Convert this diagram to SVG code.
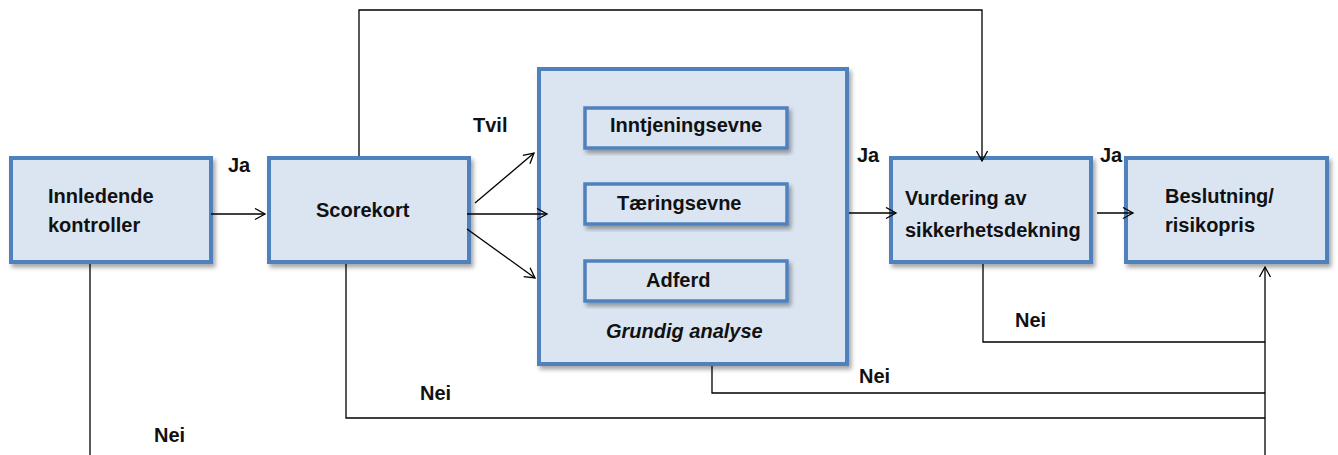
<svg xmlns="http://www.w3.org/2000/svg" width="1338" height="455" viewBox="0 0 1338 455">
  <defs>
    <filter id="shadow" x="-10%" y="-10%" width="125%" height="130%">
      <feDropShadow dx="2.5" dy="3.5" stdDeviation="2.2" flood-color="#000" flood-opacity="0.35"/>
    </filter>
    <marker id="arrow" markerUnits="userSpaceOnUse" markerWidth="14" markerHeight="14" refX="11" refY="6" orient="auto">
      <path d="M1,0.5 L11,6 L1,11.5" fill="none" stroke="#000" stroke-width="1.3"/>
    </marker>
    <style>
      .box { fill: #dbe5f1; stroke: #4f81bd; stroke-width: 4; filter: url(#shadow); }
      .inner { fill: #dbe5f1; stroke: #4f81bd; stroke-width: 3.5; filter: url(#shadow); }
      .lbl { font-family: "Liberation Sans", Arial, sans-serif; font-weight: bold; font-size: 20px; fill: #111; }
      .it { font-style: italic; }
      .conn { fill: none; stroke: #000; stroke-width: 1.3; }
    </style>
  </defs>

  <rect width="1338" height="455" fill="#fff"/>

  <g id="innledende">
    <rect class="box" x="11" y="158" width="200" height="104"/>
    <text class="lbl" x="48" y="203">Innledende</text>
    <text class="lbl" x="48" y="232">kontroller</text>
  </g>

  <g id="scorekort">
    <rect class="box" x="269" y="158" width="200" height="104"/>
    <text class="lbl" x="316" y="217">Scorekort</text>
  </g>

  <g id="grundig-analyse">
    <rect class="box" x="539" y="69" width="308" height="295"/>
    <text class="lbl it" x="606" y="338">Grundig analyse</text>
  </g>

  <g id="inntjeningsevne">
    <rect class="inner" x="585" y="108" width="202" height="40"/>
    <text class="lbl" x="610" y="132">Inntjeningsevne</text>
  </g>

  <g id="taeringsevne">
    <rect class="inner" x="585" y="184" width="202" height="40"/>
    <text class="lbl" x="617" y="210">Tæringsevne</text>
  </g>

  <g id="adferd">
    <rect class="inner" x="585" y="261" width="202" height="40"/>
    <text class="lbl" x="646" y="287">Adferd</text>
  </g>

  <g id="vurdering">
    <rect class="box" x="891" y="158" width="200" height="104"/>
    <text class="lbl" x="905" y="205">Vurdering av</text>
    <text class="lbl" x="905" y="237">sikkerhetsdekning</text>
  </g>

  <g id="beslutning">
    <rect class="box" x="1126" y="158" width="201" height="104"/>
    <text class="lbl" x="1165" y="203">Beslutning/</text>
    <text class="lbl" x="1165" y="232">risikopris</text>
  </g>

  <!-- connectors, drawn over the boxes so arrowheads stay visible -->
  <g id="connectors">
    <line class="conn" x1="211" y1="214" x2="265" y2="214" marker-end="url(#arrow)"/>
    <line class="conn" x1="475" y1="203" x2="534" y2="153" marker-end="url(#arrow)"/>
    <line class="conn" x1="467" y1="214" x2="547" y2="214" marker-end="url(#arrow)"/>
    <line class="conn" x1="467" y1="229" x2="535" y2="278" marker-end="url(#arrow)"/>
    <line class="conn" x1="849" y1="213" x2="896" y2="213" marker-end="url(#arrow)"/>
    <line class="conn" x1="1097" y1="213" x2="1133" y2="213" marker-end="url(#arrow)"/>
    <polyline class="conn" points="359,156 359,10 982,10 982,161" marker-end="url(#arrow)"/>
    <line class="conn" x1="90" y1="264" x2="90" y2="455"/>
    <polyline class="conn" points="346,264 346,418 1265,418"/>
    <polyline class="conn" points="712,366 712,393 1265,393"/>
    <polyline class="conn" points="983,264 983,342 1265,342"/>
    <line class="conn" x1="1265" y1="455" x2="1265" y2="267" marker-end="url(#arrow)"/>
  </g>

  <!-- edge labels -->
  <g id="edge-labels">
    <text class="lbl" x="228" y="172">Ja</text>
    <text class="lbl" x="473" y="132">Tvil</text>
    <text class="lbl" x="857" y="162">Ja</text>
    <text class="lbl" x="1100" y="162">Ja</text>
    <text class="lbl" x="1015" y="327">Nei</text>
    <text class="lbl" x="859" y="383">Nei</text>
    <text class="lbl" x="420" y="400">Nei</text>
    <text class="lbl" x="154" y="442">Nei</text>
  </g>
</svg>
